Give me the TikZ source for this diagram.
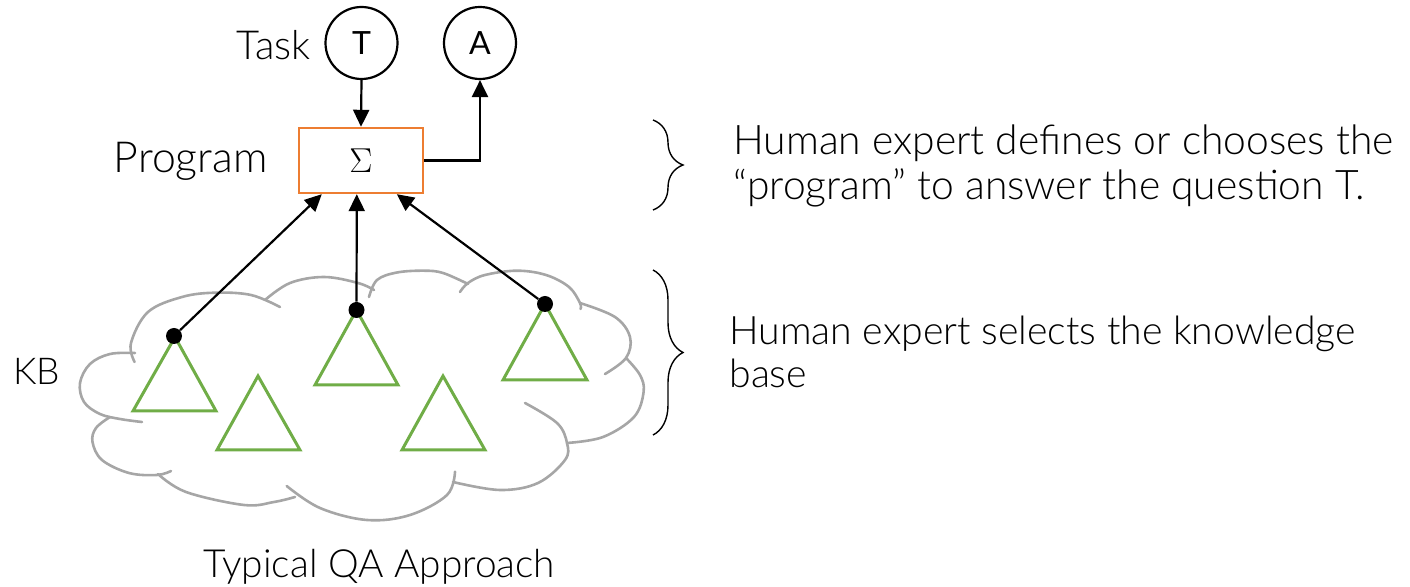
\documentclass[tikz,border=0pt]{standalone}
\usepackage{fontspec}
\IfFontExistsTF{Lato Light}{\setmainfont{Lato Light}}{\setmainfont{Open Sans}}
\IfFontExistsTF{Lato}{\newfontfamily\regfont{Lato}}{\newfontfamily\regfont{Open Sans}}
\usetikzlibrary{arrows.meta,decorations.pathreplacing,calc}

\definecolor{boxorange}{HTML}{ED7D31}
\definecolor{leafgreen}{HTML}{70AD47}
\definecolor{cloudgray}{HTML}{A6A6A6}

\begin{document}
\begin{tikzpicture}[x=0.5pt,y=-0.5pt,
  lbl/.style={font=\fontsize{20}{22.5}\selectfont, inner sep=0pt},
  var/.style={circle, draw, line width=1.1pt, minimum size=36pt, inner sep=0pt,
              font=\regfont\fontsize{16}{18}\selectfont},
  progbox/.style={draw=boxorange, line width=1.2pt, minimum width=62pt,
                  minimum height=32.5pt, inner sep=0pt},
  arr/.style={line width=1.1pt, -{Triangle[length=8.5pt,width=8pt]}},
  tipdot/.style={circle, fill, inner sep=0pt, minimum size=8pt},
  leaf/.style={draw=leafgreen, line width=1.5pt, line join=miter},
  cloudline/.style={draw=cloudgray, line width=1.3pt, line cap=round},
  bracestyle/.style={line width=0.7pt, decorate, decoration={brace, amplitude=15pt}}
]
\useasboundingbox (0,0) rectangle (1410,587);

% knowledge base cloud, one lobe at a time
\draw[cloudline] plot[smooth, tension=0.6] coordinates {(134.6,362) (131,343) (148,312) (182,297) (215,292.7) (251,295) (280,307)};
\draw[cloudline] plot[smooth, tension=0.6] coordinates {(265,300) (290,283) (324,277) (358,283) (374,290)};
\draw[cloudline] plot[smooth, tension=0.6] coordinates {(369,297) (377,280) (397,272.5) (424,270.7) (443,273) (468,284)};
\draw[cloudline] plot[smooth, tension=0.6] coordinates {(460,292) (468,283) (485,275) (517,270.7) (546,275) (569,287) (580,303) (580.5,309)};
\draw[cloudline] plot[smooth, tension=0.6] coordinates {(580,303) (615,317) (630,337) (626,358) (605,374)};
\draw[cloudline] plot[smooth, tension=0.6] coordinates {(626,358) (640,375) (643.6,392) (634,417) (603,437) (567,443)};
\draw[cloudline] plot[smooth, tension=0.6] coordinates {(525,403) (557,423) (567,443) (565,460) (538,483) (500,490) (453,482)};
\draw[cloudline] plot[smooth, tension=0.6] coordinates {(455,471.7) (447,495) (410,515) (367,520) (320,508) (286.7,486)};
\draw[cloudline] plot[smooth, tension=0.6] coordinates {(295,497) (274,502) (244,505) (186,492) (158,474)};
\draw[cloudline] plot[smooth, tension=0.6] coordinates {(171,471) (157,475) (129,473) (102,460) (92.5,442) (96,428) (110,417)};
\draw[cloudline] plot[smooth, tension=0.6] coordinates {(142,422) (120,419) (100,414) (84,402) (80,383) (90,364) (110,354) (135,353)};

% knowledge pieces
\draw[leaf] (175,337) -- (133,411) -- (216,411) -- cycle;
\draw[leaf] (258,376) -- (217,450) -- (300,450) -- cycle;
\draw[leaf] (356.5,310) -- (315,385) -- (398,385) -- cycle;
\draw[leaf] (443,376) -- (402,450) -- (485,450) -- cycle;
\draw[leaf] (545,304) -- (503,380) -- (587,380) -- cycle;

% selected pieces
\node[tipdot] (d1) at (174,336) {};
\node[tipdot] (d2) at (356.5,310) {};
\node[tipdot] (d3) at (545,304) {};

% task, answer and program
\node[var] (T) at (361.5,43) {T};
\node[var] (A) at (480,43) {A};
\node[progbox] (prog) at (361,160.5) {\fontsize{18}{20}\selectfont$\Sigma$};

\coordinate (in1) at ($(prog.south west)+(24,0)$);
\coordinate (in2) at ($(prog.south west)+(59,0)$);
\coordinate (in3) at ($(prog.south west)+(99,0)$);

\draw[arr] (T.south) -- (prog.north);
\draw[arr] (prog.east) -| (A.south);
\draw[arr] (d1) -- (in1);
\draw[arr] (d2) -- (in2);
\draw[arr] (d3) -- (in3);

% labels
\node[lbl, anchor=base east] (task) at (311,60) {Task};
\node[font=\fontsize{21.4}{24}\selectfont, inner sep=0pt, anchor=base east] (proglabel) at (268,173) {Program};
\node[font=\fontsize{18.5}{21}\selectfont, inner sep=0pt, anchor=base west] (kb) at (13,385) {KB};
\node[font=\fontsize{19.4}{22}\selectfont, inner sep=0pt, anchor=base west] (caption) at (203,578) {Typical QA Approach};

% braces and notes
\draw[bracestyle] (653,120) -- (653,210);
\draw[bracestyle] (653,270) -- (653,435);
\node[font=\fontsize{20.4}{22.5}\selectfont, inner sep=0pt, anchor=base west, align=left] (note1) at (733,200) {Human expert defines or chooses the\\“program” to answer the question T.};
\node[font=\fontsize{19.6}{21.5}\selectfont, inner sep=0pt, anchor=base west, align=left] (note2) at (729,388) {Human expert selects the knowledge\\base};
\end{tikzpicture}
\end{document}
